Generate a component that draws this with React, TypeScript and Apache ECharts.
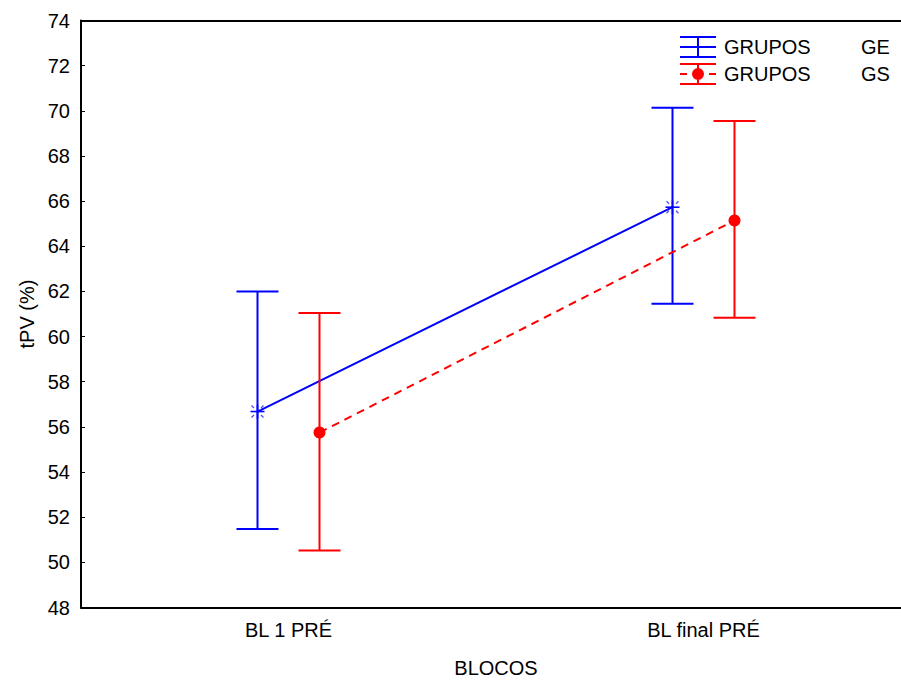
import React, { useEffect, useRef } from "react";
import * as echarts from "echarts";

const categories = ["BL 1 PRÉ", "BL final PRÉ"];
const yTicks = { min: 48, max: 74, interval: 2 };

const geMean = [56.68, 65.73];
const geLower = [51.48, 61.45];
const geUpper = [62.0, 70.14];

const gsMean = [55.75, 65.14];
const gsLower = [50.52, 60.83];
const gsUpper = [61.04, 69.55];

const groupLabel = "GRUPOS";
const seriesNames = ["GE", "GS"];

const FONT = "'Liberation Sans', Arial, sans-serif";
const BLUE = "#0000ff";
const RED = "#ff0000";

const geIcon =
  "path://M0 0 H36 V2 H0 Z M0 20 H36 V22 H0 Z M17 0 H19 V22 H17 Z M0 10 H36 V12 H0 Z";
const gsIcon =
  "path://M0 0 H36 V2 H0 Z M0 20 H36 V22 H0 Z M17 0 H19 V22 H17 Z M0 10 H7 V12 H0 Z M29 10 H36 V12 H29 Z M24 11 A6 6 0 1 1 12 11 A6 6 0 1 1 24 11 Z";

function makeSeries(
  name: string,
  color: string,
  mean: number[],
  lower: number[],
  upper: number[],
  offset: number,
  dashed: boolean,
  marker: "star" | "circle"
) {
  const data = mean.map((m, i) => [i, m, lower[i], upper[i]]);
  return {
    type: "custom",
    name,
    coordinateSystem: "cartesian2d",
    xAxisIndex: 0,
    yAxisIndex: 0,
    clip: false,
    itemStyle: { color },
    encode: { x: 0, y: 1 },
    data,
    renderItem: (params: any, api: any) => {
      const i = params.dataIndex;
      const c = api.coord([i, mean[i]]);
      const x = c[0] + offset;
      const y = c[1];
      const top = api.coord([i, upper[i]])[1];
      const bot = api.coord([i, lower[i]])[1];
      const capHalf = 21;
      const lw = 2;
      const children: any[] = [];
      if (i < mean.length - 1) {
        const n = api.coord([i + 1, mean[i + 1]]);
        children.push({
          type: "line",
          shape: { x1: x, y1: y, x2: n[0] + offset, y2: n[1] },
          style: {
            stroke: color,
            lineWidth: lw,
            lineDash: dashed ? [8, 6] : null,
          },
        });
      }
      children.push(
        {
          type: "line",
          shape: { x1: x, y1: top, x2: x, y2: bot },
          style: { stroke: color, lineWidth: lw },
        },
        {
          type: "line",
          shape: { x1: x - capHalf, y1: top, x2: x + capHalf, y2: top },
          style: { stroke: color, lineWidth: lw },
        },
        {
          type: "line",
          shape: { x1: x - capHalf, y1: bot, x2: x + capHalf, y2: bot },
          style: { stroke: color, lineWidth: lw },
        }
      );
      if (marker === "circle") {
        children.push({
          type: "circle",
          shape: { cx: x, cy: y, r: 6 },
          style: { fill: color },
        });
      } else {
        const r = 7;
        children.push(
          {
            type: "line",
            shape: { x1: x - r, y1: y, x2: x + r, y2: y },
            style: { stroke: color, lineWidth: 1.6 },
          },
          {
            type: "line",
            shape: { x1: x, y1: y - r, x2: x, y2: y + r },
            style: { stroke: color, lineWidth: 1.6 },
          }
        );
        const d1 = 3.5;
        const d2 = 6;
        [
          [1, 1],
          [1, -1],
          [-1, 1],
          [-1, -1],
        ].forEach(([sx, sy]) => {
          children.push({
            type: "line",
            shape: {
              x1: x + sx * d1,
              y1: y + sy * d1,
              x2: x + sx * d2,
              y2: y + sy * d2,
            },
            style: { stroke: color, lineWidth: 1.2, opacity: 0.7 },
          });
        });
      }
      return { type: "group", children };
    },
  };
}

export default function App() {
  const ref = useRef<HTMLDivElement>(null);
  useEffect(() => {
    document.body.style.margin = "0";
    if (!ref.current) return;
    const chart = echarts.init(ref.current, null, { renderer: "svg" });
    chart.setOption({
      animation: false,
      backgroundColor: "#ffffff",
      textStyle: { fontFamily: FONT },
      grid: {
        left: 81,
        top: 20.5,
        width: 830,
        height: 587,
        show: false,
        outerBoundsMode: "none",
        containLabel: false,
      },
      legend: {
        orient: "vertical",
        left: 680,
        top: 36,
        padding: 0,
        itemWidth: 36,
        itemHeight: 22,
        itemGap: 5,
        selectedMode: false,
        formatter: (name: string) => `{a|${groupLabel}}{b|${name}}`,
        textStyle: {
          color: "#000",
          fontSize: 20,
          fontFamily: FONT,
          rich: {
            a: {
              width: 137,
              fontSize: 20,
              color: "#000",
              fontFamily: FONT,
              padding: [0, 0, 0, 3],
            },
            b: { fontSize: 20, color: "#000", fontFamily: FONT },
          },
        },
        data: [
          { name: seriesNames[0], icon: geIcon },
          { name: seriesNames[1], icon: gsIcon },
        ],
      },
      xAxis: [
        {
          type: "category",
          data: categories,
          boundaryGap: true,
          name: "BLOCOS",
          nameLocation: "middle",
          nameGap: 50,
          nameTextStyle: { fontSize: 20, color: "#000", fontFamily: FONT },
          axisLine: { lineStyle: { color: "#000", width: 2 } },
          axisTick: {
            inside: true,
            alignWithLabel: true,
            length: 4,
            lineStyle: { color: "#000", width: 1 },
          },
          axisLabel: { fontSize: 20, color: "#000", margin: 12, fontFamily: FONT },
          splitLine: { show: false },
        },
        {
          type: "category",
          data: categories,
          position: "top",
          boundaryGap: true,
          axisLine: { show: true, lineStyle: { color: "#000", width: 2 } },
          axisTick: { show: false },
          axisLabel: { show: false },
          splitLine: { show: false },
        },
      ],
      yAxis: {
        type: "value",
        min: yTicks.min,
        max: yTicks.max,
        interval: yTicks.interval,
        name: "tPV (%)",
        nameLocation: "middle",
        nameRotate: 90,
        nameGap: 41,
        nameTextStyle: { fontSize: 20, color: "#000", fontFamily: FONT },
        axisLine: { show: true, lineStyle: { color: "#000", width: 2 } },
        axisTick: {
          show: true,
          inside: true,
          length: 4,
          lineStyle: { color: "#000", width: 1 },
        },
        axisLabel: { fontSize: 20, color: "#000", margin: 11, fontFamily: FONT },
        splitLine: { show: false },
      },
      series: [
        makeSeries(seriesNames[0], BLUE, geMean, geLower, geUpper, -31, false, "star"),
        makeSeries(seriesNames[1], RED, gsMean, gsLower, gsUpper, 31, true, "circle"),
      ],
    });
    return () => chart.dispose();
  }, []);
  return (
    <div
      ref={ref}
      style={{ position: "absolute", left: 0, top: 0, width: 901, height: 684 }}
    />
  );
}
